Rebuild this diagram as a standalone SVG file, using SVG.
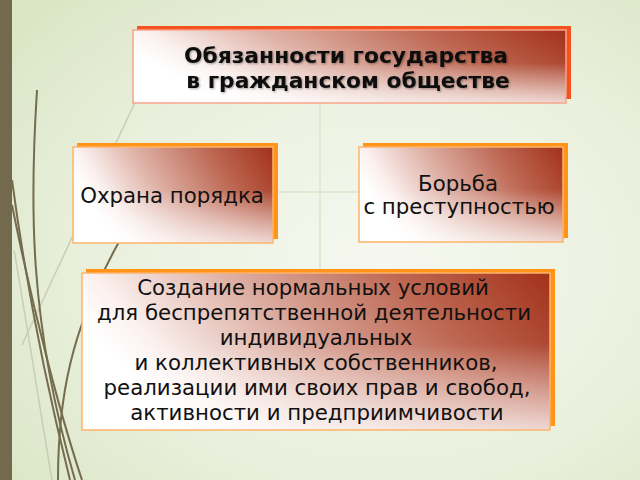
<svg xmlns="http://www.w3.org/2000/svg" width="640" height="480" viewBox="0 0 640 480">
  <defs>
    <radialGradient id="bg" cx="0.6" cy="0.55" r="0.75">
      <stop offset="0" stop-color="#f6f8f0"/>
      <stop offset="0.6" stop-color="#eaf0dd"/>
      <stop offset="1" stop-color="#dbe6c6"/>
    </radialGradient>
    <linearGradient id="boxfill" x1="1" y1="0" x2="0" y2="0.3">
      <stop offset="0" stop-color="#a3311a"/>
      <stop offset="0.3" stop-color="#bd6752"/>
      <stop offset="0.65" stop-color="#dfb3a8"/>
      <stop offset="0.9" stop-color="#fbf1ef"/>
      <stop offset="1" stop-color="#ffffff"/>
    </linearGradient>
    <linearGradient id="fade" x1="0" y1="0" x2="0" y2="1">
      <stop offset="0.45" stop-color="#ffffff" stop-opacity="0"/>
      <stop offset="1" stop-color="#ffffff" stop-opacity="0.75"/>
    </linearGradient>
    <filter id="ts" x="-5%" y="-20%" width="110%" height="140%">
      <feDropShadow dx="1" dy="1" stdDeviation="0.8" flood-color="#000" flood-opacity="0.35"/>
    </filter>
  </defs>
  <style>
    .back-red { fill: #f4531f; }
    .back-org { fill: #ff9418; }
    .front { fill: url(#boxfill); }
    .fade { fill: url(#fade); stroke-width: 1.5; }
    .front-red { stroke: #f7a48a; }
    .front-org { stroke: #fdb46a; }
    .t { font-family: "DejaVu Sans", "Liberation Sans", sans-serif; fill: #111; text-anchor: middle; }
    .title { font-size: 21.8px; font-weight: bold; }
    .body { font-size: 21.3px; }
    .conn { stroke: #e2e9d3; stroke-width: 2; fill: none; }
    .deco { stroke: #756c4f; fill: none; stroke-width: 2; }
    .deco-l { stroke: #c9cdb2; fill: none; stroke-width: 1.5; }
  </style>

  <rect x="0" y="0" width="640" height="480" fill="url(#bg)"/>
  <rect x="0" y="0" width="12" height="480" fill="#736a4e"/>

  <g id="decoration">
    <path class="deco-l" d="M14,250 C28,330 40,410 52,480"/>
    <path class="deco-l" d="M22,345 L136,100"/>
    <path class="deco" d="M37,90 C30,200 28,320 75,480"/>
    <path class="deco" d="M12,180 C28,300 50,400 70,480"/>
    <path class="deco" d="M12,205 C35,320 62,420 82,480"/>
    <path class="deco" d="M58,480 C58,400 70,330 120,240"/>
  </g>

  <g id="connectors">
    <path class="conn" d="M320,104 V272"/>
    <path class="conn" d="M274,192 H360"/>
  </g>

  <g id="node-top">
    <rect class="back-red" x="137" y="26" width="434" height="73"/>
    <rect class="front" x="133" y="30" width="433" height="73"/>
    <rect class="fade front-red" x="133" y="30" width="433" height="73"/>
    <g filter="url(#ts)">
      <text class="t title" x="346" y="63">Обязанности государства</text>
      <text class="t title" x="348" y="88">в гражданском обществе</text>
    </g>
  </g>

  <g id="node-left">
    <rect class="back-org" x="77" y="143" width="201" height="96"/>
    <rect class="front" x="73" y="147" width="200" height="96"/>
    <rect class="fade front-org" x="73" y="147" width="200" height="96"/>
    <text class="t body" x="172" y="203">Охрана порядка</text>
  </g>

  <g id="node-right">
    <rect class="back-org" x="363" y="143" width="205" height="95"/>
    <rect class="front" x="359" y="147" width="204" height="95"/>
    <rect class="fade front-org" x="359" y="147" width="204" height="95"/>
    <text class="t body" x="458" y="191">Борьба</text>
    <text class="t body" x="459" y="214">с преступностью</text>
  </g>

  <g id="node-bottom">
    <rect class="back-org" x="86" y="269" width="469" height="157"/>
    <rect class="front" x="82" y="273" width="468" height="157"/>
    <rect class="fade front-org" x="82" y="273" width="468" height="157"/>
    <text class="t body" x="313" y="295">Создание нормальных условий</text>
    <text class="t body" x="314" y="320">для беспрепятственной деятельности</text>
    <text class="t body" x="316" y="345">индивидуальных</text>
    <text class="t body" x="316" y="370">и коллективных собственников,</text>
    <text class="t body" x="317" y="395">реализации ими своих прав и свобод,</text>
    <text class="t body" x="317" y="420">активности и предприимчивости</text>
  </g>
</svg>
